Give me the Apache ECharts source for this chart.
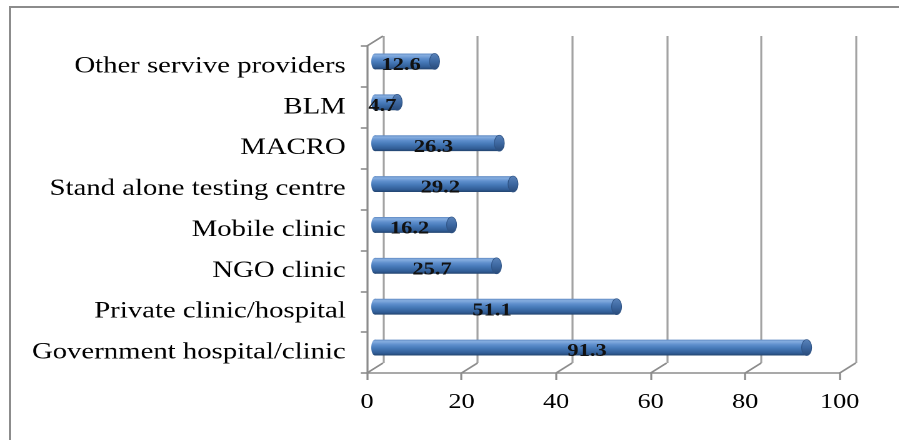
<!DOCTYPE html>
<html>
<head>
<meta charset="utf-8">
<script src="https://cdn.jsdelivr.net/npm/echarts@6/dist/echarts.min.js"></script>
<style>
  html, body { margin: 0; padding: 0; background: #fff; overflow: hidden; }
  #frame { position: absolute; left: 9px; top: 6px; width: 2000px; height: 2000px;
           border-top: 2.5px solid #8c8c8c; border-left: 2.5px solid #8c8c8c; }
  /* the chart is laid out narrow and widened, giving the broad serif lettering */
  #chart { position: absolute; left: 0; top: 0; width: 719.2px; height: 440px;
           transform: scaleX(1.25); transform-origin: 0 0; }
</style>
</head>
<body>
<div id="frame"></div>
<div id="chart"></div>
<script>
// Service providers used (percent), listed bottom to top as drawn
const categories = [
  'Government hospital/clinic',
  'Private clinic/hospital',
  'NGO clinic',
  'Mobile clinic',
  'Stand alone testing centre',
  'MACRO',
  'BLM',
  'Other servive providers'
];
const percentages = [91.3, 51.1, 25.7, 16.2, 29.2, 26.3, 4.7, 12.6];
const valueTicks = [0, 20, 40, 60, 80, 100];

// depth of the pseudo-3D box (back wall relative to the front axes)
const DEPTH_X = 12.8;
const DEPTH_Y = -10;
const SERIF = 'Liberation Serif';
const FRAME = '#8c8c8c';

const chart = echarts.init(document.getElementById('chart'), null,
  { renderer: 'canvas', devicePixelRatio: 2 });

function barItem(params, api) {
  const v = api.value(0);
  const idx = api.value(1);
  const start = api.coord([0, idx]);
  const end = api.coord([v, idx]);
  const h = api.size([0, 1])[1] * 0.39;
  const ox = DEPTH_X / 2, oy = DEPTH_Y / 2;
  const yc = start[1] + oy;
  const x0 = start[0] + ox, x1 = end[0] + ox;
  const bodyFill = new echarts.graphic.LinearGradient(0, 0, 0, 1, [
    { offset: 0, color: '#5f89c2' },
    { offset: 0.12, color: '#86aee0' },
    { offset: 0.32, color: '#5f8fcd' },
    { offset: 0.55, color: '#4679b8' },
    { offset: 0.85, color: '#315d96' },
    { offset: 1, color: '#22436d' }
  ]);
  const capFill = new echarts.graphic.LinearGradient(0, 0, 0, 1, [
    { offset: 0, color: '#5b84bb' },
    { offset: 0.5, color: '#3d68a1' },
    { offset: 1, color: '#294a78' }
  ]);
  return {
    type: 'group',
    children: [
      { type: 'ellipse', shape: { cx: x0, cy: yc, rx: 3, ry: h / 2 }, style: { fill: bodyFill } },
      { type: 'rect', shape: { x: x0, y: yc - h / 2, width: x1 - x0, height: h }, style: { fill: bodyFill } },
      { type: 'ellipse', shape: { cx: x1, cy: yc, rx: 4, ry: h / 2 },
        style: { fill: capFill, stroke: '#2f5384', lineWidth: 0.6 } },
      { type: 'text', z2: 10,
        style: {
          text: String(v), x: (x0 + x1) / 2 - 3, y: yc + 4,
          align: 'center', verticalAlign: 'middle',
          fontFamily: SERIF, fontSize: 18, fontWeight: 'bold', fill: '#111'
        } }
    ]
  };
}

function frameItem(params, api) {
  const cs = params.coordSys;
  const x = api.coord([api.value(0), 0])[0];
  const yb = cs.y + cs.height;
  const lineStyle = { stroke: FRAME, lineWidth: 1.6 };
  const children = [
    { type: 'line', shape: { x1: x, y1: yb, x2: x + DEPTH_X, y2: yb + DEPTH_Y }, style: lineStyle }
  ];
  if (params.dataIndex === 0) {
    children.push({ type: 'line',
      shape: { x1: cs.x, y1: cs.y, x2: cs.x + DEPTH_X, y2: cs.y + DEPTH_Y }, style: lineStyle });
  }
  return { type: 'group', children: children };
}

const option = {
  animation: false,
  grid: [
    { left: 293.6, right: 47.2, top: 46, bottom: 67 },
    { left: 293.6 + DEPTH_X, right: 47.2 - DEPTH_X, top: 46 + DEPTH_Y, bottom: 67 - DEPTH_Y }
  ],
  xAxis: [
    {
      gridIndex: 0, type: 'value', min: 0, max: 100, interval: 20,
      axisLine: { show: true, lineStyle: { color: FRAME, width: 1.6 } },
      axisTick: { show: true, length: 7, lineStyle: { color: FRAME, width: 1.6 } },
      axisLabel: { margin: 19, fontFamily: SERIF, fontSize: 21, color: '#000' },
      splitLine: { show: false }
    },
    {
      gridIndex: 1, type: 'value', min: 0, max: 100, interval: 20,
      axisLine: { show: false }, axisTick: { show: false }, axisLabel: { show: false },
      splitLine: { show: true, lineStyle: { color: '#a3a3a3', width: 1.6 } }
    }
  ],
  yAxis: [
    {
      gridIndex: 0, type: 'category', data: categories,
      axisLine: { show: true, lineStyle: { color: FRAME, width: 1.6 } },
      axisTick: { show: true, length: 5, lineStyle: { color: FRAME, width: 1.6 } },
      axisLabel: { margin: 17, fontFamily: SERIF, fontSize: 23, color: '#000' },
      splitLine: { show: false }
    },
    { gridIndex: 1, type: 'category', data: categories, show: false }
  ],
  series: [
    {
      type: 'custom', xAxisIndex: 0, yAxisIndex: 0, silent: true, clip: false, z: 1,
      data: valueTicks.map(v => [v, 0]),
      renderItem: frameItem
    },
    {
      type: 'custom', xAxisIndex: 0, yAxisIndex: 0, silent: true, clip: false, z: 5,
      data: percentages.map((v, i) => [v, i]),
      encode: { x: 0, y: 1 },
      renderItem: barItem
    }
  ]
};

chart.setOption(option);
</script>
</body>
</html>
